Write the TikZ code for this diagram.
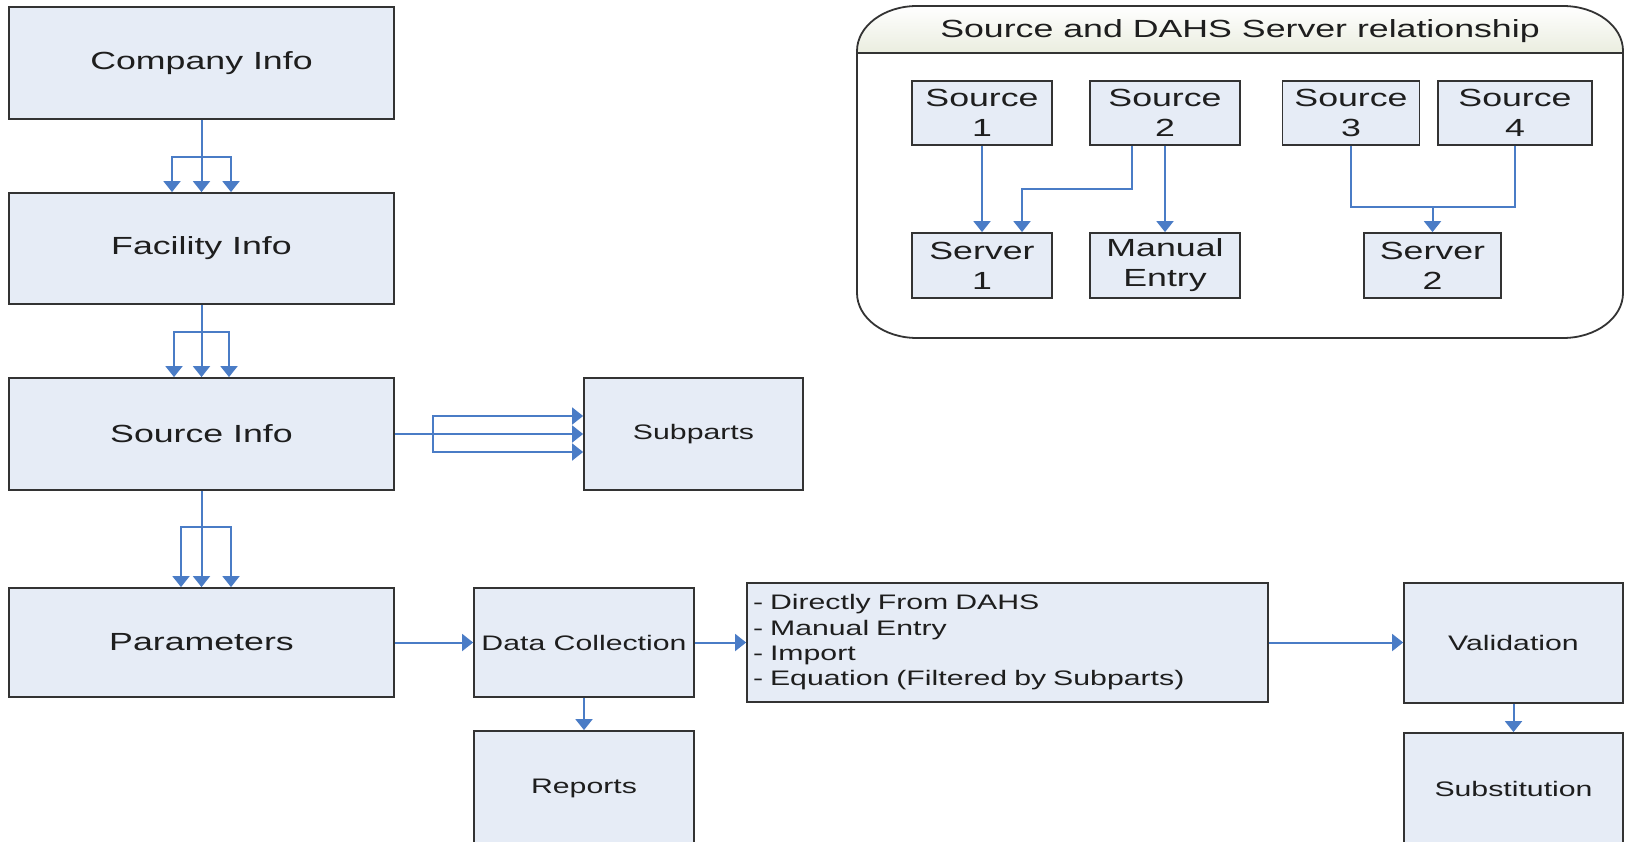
\documentclass[tikz,border=0pt]{standalone}
\usepackage{fontspec}
\setmainfont{Liberation Sans}[FakeStretch=1.44]
\usetikzlibrary{arrows.meta,calc}
\definecolor{boxfill}{HTML}{E6ECF6}
\definecolor{boxline}{HTML}{333333}
\definecolor{arrblue}{HTML}{4A7CC6}
\definecolor{txt}{HTML}{1E1E1E}
\definecolor{hdr}{HTML}{EAEDDF}
\newcommand\BigTxt{\fontsize{24.8}{30}\selectfont}
\newcommand\SmallTxt{\fontsize{21}{25.3}\selectfont}
\begin{document}
\begin{tikzpicture}[x=1pt,y=-1pt,
  box/.style={draw=boxline,line width=1.8pt,fill=boxfill,inner sep=0pt,text=txt,align=center},
  big/.style={box,font=\BigTxt},
  small/.style={box,font=\SmallTxt},
  arr/.style={draw=arrblue,line width=2pt,-{Triangle[length=11pt,width=17pt]}},
  ln/.style={draw=arrblue,line width=2pt}]
\useasboundingbox (0,0) rectangle (1625,842);
\clip (0,0) rectangle (1625,842);
\fill[white] (0,0) rectangle (1625,842);

% ---------- main flow ----------
\node[big,minimum width=385pt,minimum height=112pt] (comp) at (201.5,63) {Company Info};
\node[big,minimum width=385pt,minimum height=111pt] (fac) at (201.5,248.5) {Facility Info};
\node[big,minimum width=385pt,minimum height=112pt] (src) at (201.5,434) {Source Info};
\node[big,minimum width=385pt,minimum height=109pt] (par) at (201.5,642.5) {Parameters};
\node[small,minimum width=219pt,minimum height=112pt] (sub) at (693.5,434) {Subparts};
\node[small,minimum width=220pt,minimum height=109pt] (dc) at (584,642.5) {Data Collection};
\node[small,minimum width=220pt,minimum height=114pt] (rep) at (584,788) {Reports};
\node[small,minimum width=521pt,minimum height=119pt,text width=509pt,align=left] (lst) at (1007.5,642.5)
  {\raisebox{-2pt}{\parbox{509pt}{- Directly From DAHS\\- Manual Entry\\- Import\\- Equation (Filtered by Subparts)}}};
\node[small,minimum width=219pt,minimum height=120pt] (val) at (1513.5,643) {Validation};
\node[small,minimum width=219pt,minimum height=112pt] (subst) at (1513.5,789) {Substitution};

% triple arrows
\coordinate (b1) at (201.5,157);
\draw[arr] (comp.south) -- (fac.north);
\draw[arr] (b1) -| ([xshift=-29.5pt]fac.north);
\draw[arr] (b1) -| ([xshift=29.5pt]fac.north);

\coordinate (b2) at (201.5,332);
\draw[arr] (fac.south) -- (src.north);
\draw[arr] (b2) -| ([xshift=-27.5pt]src.north);
\draw[arr] (b2) -| ([xshift=27.5pt]src.north);

\coordinate (b3) at (201.5,527);
\draw[arr] (src.south) -- (par.north);
\draw[arr] (b3) -| ([xshift=-20.5pt]par.north);
\draw[arr] (b3) -| ([xshift=29.5pt]par.north);

\coordinate (b4) at (433,434);
\draw[arr] (src.east) -- (src.east -| sub.west);
\draw[arr] (b4) |- ([yshift=18pt]sub.west);
\draw[arr] (b4) |- ([yshift=-18pt]sub.west);

\draw[arr] (par.east) -- (dc.west);
\draw[arr] (dc.east) -- (lst.west);
\draw[arr] (lst.east) -- (lst.east -| val.west);
\draw[arr] (dc.south) -- (rep.north);
\draw[arr] (val.south) -- (subst.north);

% ---------- group ----------
\fill[white] (857,51) .. controls (857,26.1) and (883.9,6) .. (917,6)
  -- (1563,6) .. controls (1596.1,6) and (1623,26.1) .. (1623,51)
  -- (1623,293) .. controls (1623,317.9) and (1596.1,338) .. (1563,338)
  -- (917,338) .. controls (883.9,338) and (857,317.9) .. (857,293) -- cycle;
\shade[top color=white,bottom color=hdr] (857,53) -- (857,51) .. controls (857,26.1) and (883.9,6) .. (917,6)
  -- (1563,6) .. controls (1596.1,6) and (1623,26.1) .. (1623,51) -- (1623,53) -- cycle;
\draw[boxline,line width=1.8pt] (857,51) .. controls (857,26.1) and (883.9,6) .. (917,6)
  -- (1563,6) .. controls (1596.1,6) and (1623,26.1) .. (1623,51)
  -- (1623,293) .. controls (1623,317.9) and (1596.1,338) .. (1563,338)
  -- (917,338) .. controls (883.9,338) and (857,317.9) .. (857,293) -- cycle;
\draw[boxline,line width=1.8pt] (857,53) -- (1623,53);
\node[font=\BigTxt,text=txt] (hdrtext) at (1240,31) {Source and DAHS Server relationship};

\node[big,minimum width=140pt,minimum height=64pt] (s1) at (982,113) {Source\\1};
\node[big,minimum width=150pt,minimum height=64pt] (s2) at (1165,113) {Source\\2};
\node[big,minimum width=137pt,minimum height=64pt] (s3) at (1351,113) {Source\\3};
\node[big,minimum width=154pt,minimum height=64pt] (s4) at (1515,113) {Source\\4};
\node[big,minimum width=140pt,minimum height=65pt] (sv1) at (982,265.5) {Server\\1};
\node[big,minimum width=150pt,minimum height=65pt] (man) at (1165,265.5) {Manual\\Entry};
\node[big,minimum width=137pt,minimum height=65pt] (sv2) at (1432.5,265.5) {Server\\2};

\draw[arr] (s1.south) -- (sv1.north);
\coordinate (k1) at (1132,189);
\coordinate (k2) at (1022,189);
\draw[arr] (s2.south -| k1) -- (k1) -- (k2) -- (k2 |- sv1.north);
\draw[arr] (s2.south) -- (man.north);
\coordinate (j2) at (1432.5,207);
\draw[ln] (s3.south) |- (j2 -| s4.south) -- (s4.south);
\draw[arr] (j2) -- (sv2.north);
\end{tikzpicture}
\end{document}
